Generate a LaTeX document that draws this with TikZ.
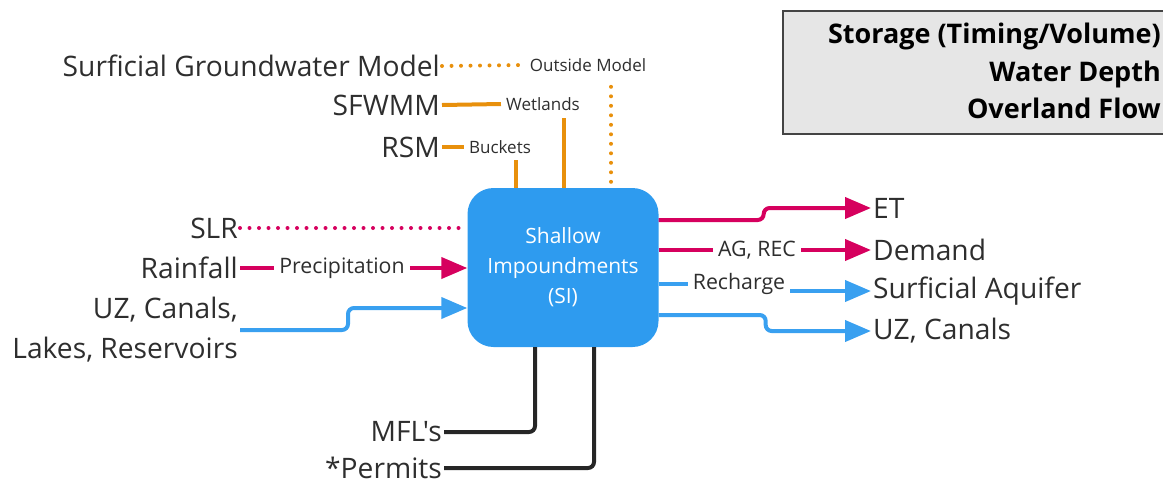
\documentclass[tikz,border=0pt]{standalone}
\usepackage{fontspec}
\setmainfont{Open Sans}[Ligatures=TeXOff]
\usetikzlibrary{arrows.meta,calc}
\definecolor{siblue}{HTML}{2E9BEF}
\definecolor{arrblue}{HTML}{39A0F0}
\definecolor{mag}{HTML}{D6005E}
\definecolor{org}{HTML}{E8900C}
\definecolor{txt}{HTML}{2E2E2E}
\definecolor{boxgray}{HTML}{E6E6E6}
\definecolor{boxedge}{HTML}{444444}
\begin{document}
\begin{tikzpicture}[x=1pt,y=-1pt,
  big/.style={text=txt,inner sep=2pt,font=\fontsize{28.2}{40}\selectfont},
  bigl/.style={big,anchor=east,align=right},
  bigr/.style={big,anchor=west},
  small/.style={text=txt,inner sep=5pt,font=\fontsize{17}{20}\selectfont},
  mid/.style={text=txt,inner sep=5pt,font=\fontsize{21.3}{25}\selectfont},
  wire/.style={line width=4pt},
  magw/.style={wire,draw=mag},
  bluw/.style={wire,draw=arrblue},
  orgw/.style={wire,draw=org},
  blkw/.style={wire,draw=black!85,rounded corners=6pt},
  dotline/.style={line width=4pt,line cap=round,dash pattern=on 0pt off 9.5pt},
  tip/.style={-{Triangle[length=26pt,width=21pt]}}
]
\useasboundingbox (0,0) rectangle (1163,483);
% legend box
\node[draw=boxedge,line width=2pt,fill=boxgray,minimum width=400pt,minimum height=123pt,anchor=north west] (legend) at (782,10) {};
\node[anchor=east,align=right,text=black,font=\fontsize{27}{37.5}\selectfont\bfseries,inner sep=0pt] (legtxt) at (1161,71) {Storage (Timing/Volume)\\Water Depth\\Overland Flow};
% central box
\node[fill=siblue,rounded corners=26pt,minimum width=191pt,minimum height=159pt,text=white,align=center,font=\fontsize{21}{30}\selectfont] (si) at (563,267.5) {Shallow\\Impoundments\\(SI)};
% left labels
\node[bigl] (sgm) at (442,66) {Surficial Groundwater Model};
\node[bigl] (sfwmm) at (442,105) {SFWMM};
\node[bigl] (rsm) at (442,147) {RSM};
\node[bigl] (slr) at (240,228) {SLR};
\node[bigl] (rain) at (240,268) {Rainfall};
\node[bigl] (uz) at (240,330) {UZ, Canals,\\Lakes, Reservoirs};
\node[bigl] (mfl) at (444,432) {MFL's};
\node[bigl] (permits) at (444,468) {*Permits};
% right labels
\node[bigr] (et) at (871,208) {ET};
\node[bigr] (demand) at (871,250) {Demand};
\node[bigr] (aquifer) at (871,291) {Surficial Aquifer};
\node[bigr] (uzr) at (871,331) {UZ, Canals};
% connector labels
\node[small] (outside) at (588,65) {Outside Model};
\node[small] (wetlands) at (543,104) {Wetlands};
\node[small] (buckets) at (500,147) {Buckets};
\node[mid] (precip) at (342,268) {Precipitation};
\node[mid] (agrec) at (757,250) {AG, REC};
\node[mid] (recharge) at (739,284) {Recharge};
% orange connectors (top)
\draw[org,dotline] (sgm.east) -- (outside.west);
\draw[org,dotline] ($(si.north)+(48,-6)$) -- ($(si.north)+(48,-109)$);
\draw[orgw] (sfwmm.east) -- (wetlands.west);
\draw[orgw] ($(si.north)+(1,0)$) -- ($(si.north)+(1,-70)$);
\draw[orgw] (rsm.east) -- (buckets.west);
\draw[orgw] ($(si.north)+(-47,0)$) -- ($(si.north)+(-47,-28)$);
% left connectors
\draw[mag,dotline] (slr.east) -- (slr.east -| si.west);
\draw[magw] (rain.east) -- (precip.west);
\draw[magw,tip] (precip.east) -- (precip.east -| si.west);
\draw[bluw,tip,rounded corners=6pt] (uz.east) -- ++(108,0) -- ++(0,-22) -- ($(si.west)+(0,40.5)$);
% right connectors
\draw[magw,tip,rounded corners=6pt] ($(si.east)+(0,-47.5)$) -- ++(105,0) -- ++(0,-12) -- (et.west);
\draw[magw] ($(si.east)+(0,-17.5)$) -- (agrec.west);
\draw[magw,tip] (agrec.east) -- (demand.west);
\draw[bluw] (recharge.west -| si.east) -- (recharge.west);
\draw[bluw,tip] (recharge.east |- aquifer.west) -- (aquifer.west);
\draw[bluw,tip,rounded corners=6pt] ($(si.east)+(0,47.5)$) -- ++(107,0) -- ++(0,16) -- (uzr.west);
% bottom connectors
\draw[blkw] ($(si.south)+(-28,0)$) |- (mfl.east);
\draw[blkw] ($(si.south)+(31,0)$) |- (permits.east);
\end{tikzpicture}
\end{document}
